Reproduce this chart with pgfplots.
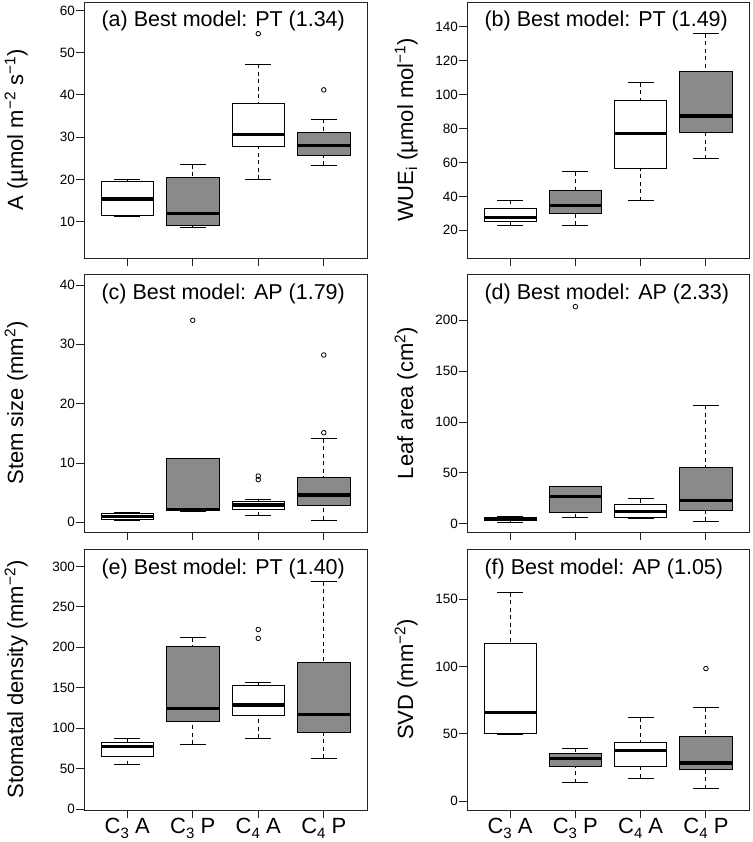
\documentclass[border=0pt]{standalone}
\usepackage{fontspec}
\setmainfont{Liberation Sans}
\usepackage{pgfplots}
\pgfplotsset{compat=1.18}
\usepgfplotslibrary{statistics}
\definecolor{boxgray}{RGB}{138,138,138}
\definecolor{framec}{RGB}{35,35,35}

\tikzset{ptitle/.style={anchor=base west, font=\fontsize{21.5}{24}\selectfont, xshift=14pt, yshift=-25pt}}
\newcommand{\sub}[1]{\raisebox{-0.22em}{\fontsize{15}{15}\selectfont #1}}

% groups sit at x = 10, 20, 30, 40
\pgfplotsset{
  panel/.style={
    scale only axis, anchor=north west, disabledatascaling,
    xmin=3.4, xmax=46.6, xtick={10,20,30,40}, xticklabels={},
    tick align=outside, major tick length=8pt,
    xtick pos=left, ytick pos=left,
    axis line style={line width=0.9pt, framec},
    every tick/.style={line width=0.9pt, framec},
    yticklabel style={font=\fontsize{13.5}{14}\selectfont, inner sep=1pt},
    /pgf/number format/assume math mode=true,
    ylabel style={font=\fontsize{22}{24}\selectfont, anchor=base},
  },
  rbox/.style={
    solid, black, line width=0.9pt, mark=o, mark size=2.3pt,
    mark options={solid, line width=0.8pt},
    boxplot/draw direction=y,
    boxplot/box extend=8,
    boxplot/draw/lower whisker/.code={
      \draw[dash pattern=on 4pt off 3.5pt] (boxplot box cs:\pgfplotsboxplotvalue{lower whisker},0.5) -- (boxplot box cs:\pgfplotsboxplotvalue{lower quartile},0.5);
      \draw (boxplot box cs:\pgfplotsboxplotvalue{lower whisker},0.25) -- (boxplot box cs:\pgfplotsboxplotvalue{lower whisker},0.75);
    },
    boxplot/draw/upper whisker/.code={
      \draw[dash pattern=on 4pt off 3.5pt] (boxplot box cs:\pgfplotsboxplotvalue{upper whisker},0.5) -- (boxplot box cs:\pgfplotsboxplotvalue{upper quartile},0.5);
      \draw (boxplot box cs:\pgfplotsboxplotvalue{upper whisker},0.25) -- (boxplot box cs:\pgfplotsboxplotvalue{upper whisker},0.75);
    },
    boxplot/draw/median/.code={
      \draw[line width=3.3pt] (boxplot box cs:\pgfplotsboxplotvalue{median},0) -- (boxplot box cs:\pgfplotsboxplotvalue{median},1);
    },
  },
  Abox/.style={rbox, boxplot/every box/.style={draw=black, fill=white}},
  Pbox/.style={rbox, boxplot/every box/.style={draw=black, fill=boxgray}},
  bottomrow/.style={
    xticklabels={C\sub{3} A, C\sub{3} P, C\sub{4} A, C\sub{4} P},
    xticklabel style={font=\fontsize{22}{24}\selectfont, yshift=3pt},
  },
}

\begin{document}
\begin{tikzpicture}
\useasboundingbox (0pt,0pt) rectangle (752pt,-842pt);

% (a) photosynthesis
\begin{axis}[panel, at={(84pt,-2pt)}, width=283pt, height=256pt,
  ymin=1.4, ymax=62, ytick={10,20,30,40,50,60},
  ylabel={A (µmol m\textsuperscript{−2} s\textsuperscript{−1})},
  ylabel style={at={(axis description cs:-0.2155,0.5)}}]
\addplot[Abox, boxplot prepared={draw position=10, lower whisker=11.3, lower quartile=11.5, median=15.4, upper quartile=19.5, upper whisker=20.1}] coordinates {};
\addplot[Pbox, boxplot prepared={draw position=20, lower whisker=8.7, lower quartile=9.0, median=11.9, upper quartile=20.4, upper whisker=23.5}] coordinates {};
\addplot[Abox, boxplot prepared={draw position=30, lower whisker=20.1, lower quartile=27.9, median=30.7, upper quartile=38.0, upper whisker=47.3}] table[row sep=\\, y index=0] {54.5\\};
\addplot[Pbox, boxplot prepared={draw position=40, lower whisker=23.3, lower quartile=25.6, median=28.1, upper quartile=31.1, upper whisker=34.3}] table[row sep=\\, y index=0] {41.2\\};
\node[ptitle] at (rel axis cs:0,1) {(a) Best model: PT (1.34)};
\end{axis}

% (b) WUEi
\begin{axis}[panel, at={(467pt,-2pt)}, width=282pt, height=256pt,
  ymin=3.7, ymax=154.5, ytick={20,40,60,80,100,120,140},
  ylabel={WUE\textsubscript{i} (µmol mol\textsuperscript{−1})},
  ylabel style={at={(axis description cs:-0.1915,0.5)}}]
\addplot[Abox, boxplot prepared={draw position=10, lower whisker=23.1, lower quartile=25.1, median=27.7, upper quartile=32.6, upper whisker=37.7}] coordinates {};
\addplot[Pbox, boxplot prepared={draw position=20, lower whisker=22.9, lower quartile=30.2, median=34.7, upper quartile=43.2, upper whisker=54.6}] coordinates {};
\addplot[Abox, boxplot prepared={draw position=30, lower whisker=37.5, lower quartile=56.7, median=77.1, upper quartile=96.6, upper whisker=107.0}] coordinates {};
\addplot[Pbox, boxplot prepared={draw position=40, lower whisker=62.2, lower quartile=77.9, median=87.4, upper quartile=113.5, upper whisker=135.9}] coordinates {};
\node[ptitle] at (rel axis cs:0,1) {(b) Best model: PT (1.49)};
\end{axis}

% (c) stem size
\begin{axis}[panel, at={(84pt,-274pt)}, width=283pt, height=258pt,
  ymin=-1.63, ymax=41.85, ytick={0,10,20,30,40},
  ylabel={Stem size (mm\textsuperscript{2})},
  ylabel style={at={(axis description cs:-0.2155,0.5)}}]
\addplot[Abox, boxplot prepared={draw position=10, lower whisker=0.28, lower quartile=0.56, median=1.0, upper quartile=1.57, upper whisker=1.74}] coordinates {};
\addplot[Pbox, boxplot prepared={draw position=20, lower whisker=1.8, lower quartile=1.95, median=2.2, upper quartile=10.7, upper whisker=10.7}] table[row sep=\\, y index=0] {34.05\\};
\addplot[Abox, boxplot prepared={draw position=30, lower whisker=1.1, lower quartile=2.1, median=2.9, upper quartile=3.5, upper whisker=3.8}] table[row sep=\\, y index=0] {7.2\\ 7.8\\};
\addplot[Pbox, boxplot prepared={draw position=40, lower whisker=0.4, lower quartile=2.9, median=4.6, upper quartile=7.6, upper whisker=14.1}] table[row sep=\\, y index=0] {15.1\\ 28.2\\};
\node[ptitle] at (rel axis cs:0,1) {(c) Best model: AP (1.79)};
\end{axis}

% (d) leaf area
\begin{axis}[panel, at={(467pt,-274pt)}, width=282pt, height=258pt,
  ymin=-8.2, ymax=245.5, ytick={0,50,100,150,200},
  ylabel={Leaf area (cm\textsuperscript{2})},
  ylabel style={at={(axis description cs:-0.1915,0.5)}}]
\addplot[Abox, boxplot prepared={draw position=10, lower whisker=1.3, lower quartile=3.0, median=4.6, upper quartile=6.3, upper whisker=7.0}] coordinates {};
\addplot[Pbox, boxplot prepared={draw position=20, lower whisker=5.9, lower quartile=11.1, median=26.8, upper quartile=37.0, upper whisker=37.0}] table[row sep=\\, y index=0] {213.4\\};
\addplot[Abox, boxplot prepared={draw position=30, lower whisker=4.9, lower quartile=6.5, median=11.8, upper quartile=19.0, upper whisker=24.5}] coordinates {};
\addplot[Pbox, boxplot prepared={draw position=40, lower whisker=2.6, lower quartile=13.1, median=22.9, upper quartile=55.0, upper whisker=116.5}] coordinates {};
\node[ptitle] at (rel axis cs:0,1) {(d) Best model: AP (2.33)};
\end{axis}

% (e) stomatal density
\begin{axis}[panel, bottomrow, at={(84pt,-549pt)}, width=283pt, height=261pt,
  ymin=-1.2, ymax=321.5, ytick={0,50,100,150,200,250,300},
  ylabel={Stomatal density (mm\textsuperscript{−2})},
  ylabel style={at={(axis description cs:-0.2155,0.5)}}]
\addplot[Abox, boxplot prepared={draw position=10, lower whisker=55.0, lower quartile=65.4, median=77.0, upper quartile=82.0, upper whisker=87.7}] coordinates {};
\addplot[Pbox, boxplot prepared={draw position=20, lower whisker=80.0, lower quartile=108.4, median=124.6, upper quartile=201.1, upper whisker=212.0}] coordinates {};
\addplot[Abox, boxplot prepared={draw position=30, lower whisker=87.7, lower quartile=115.4, median=128.7, upper quartile=152.3, upper whisker=156.0}] table[row sep=\\, y index=0] {211.0\\ 222.0\\};
\addplot[Pbox, boxplot prepared={draw position=40, lower whisker=62.9, lower quartile=94.3, median=117.1, upper quartile=181.2, upper whisker=281.0}] coordinates {};
\node[ptitle] at (rel axis cs:0,1) {(e) Best model: PT (1.40)};
\end{axis}

% (f) SVD
\begin{axis}[panel, bottomrow, at={(467pt,-549pt)}, width=282pt, height=261pt,
  ymin=-6.7, ymax=187.2, ytick={0,50,100,150},
  ylabel={SVD (mm\textsuperscript{−2})},
  ylabel style={at={(axis description cs:-0.1915,0.5)}}]
\addplot[Abox, boxplot prepared={draw position=10, lower whisker=49.1, lower quartile=50.3, median=65.7, upper quartile=117.0, upper whisker=154.7}] coordinates {};
\addplot[Pbox, boxplot prepared={draw position=20, lower whisker=13.6, lower quartile=26.0, median=31.7, upper quartile=35.5, upper whisker=39.4}] coordinates {};
\addplot[Abox, boxplot prepared={draw position=30, lower whisker=17.1, lower quartile=25.5, median=37.7, upper quartile=43.4, upper whisker=61.7}] coordinates {};
\addplot[Pbox, boxplot prepared={draw position=40, lower whisker=9.2, lower quartile=23.3, median=28.3, upper quartile=47.9, upper whisker=69.2}] table[row sep=\\, y index=0] {98.4\\};
\node[ptitle] at (rel axis cs:0,1) {(f) Best model: AP (1.05)};
\end{axis}
\end{tikzpicture}
\end{document}
